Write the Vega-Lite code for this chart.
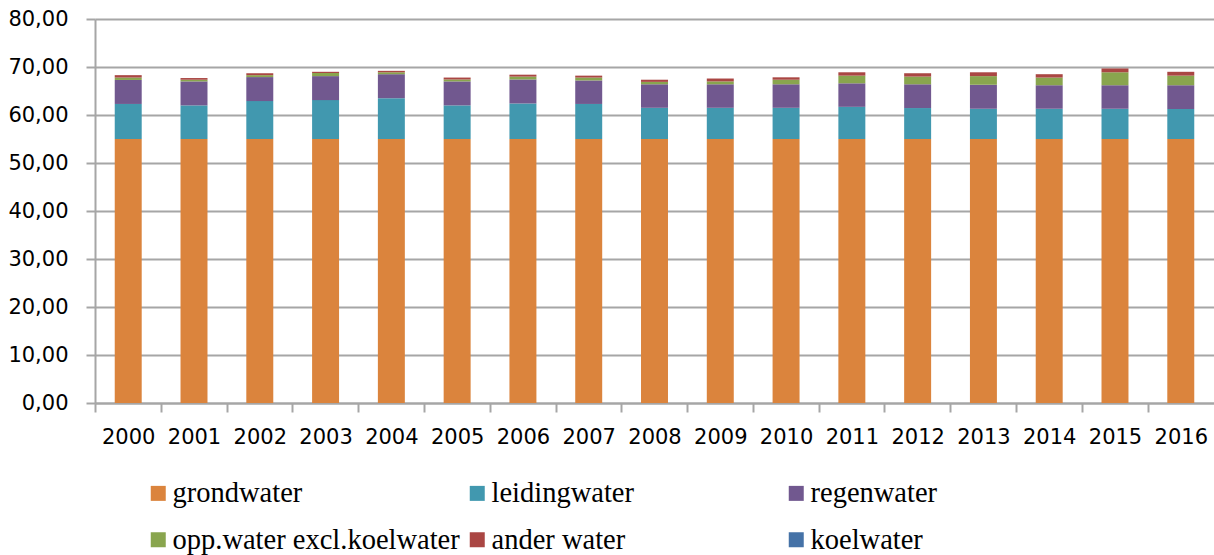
{
  "$schema": "https://vega.github.io/schema/vega-lite/v6.json",
  "width": 1119,
  "height": 384,
  "autosize": "none",
  "padding": {"left": 95, "top": 19, "right": 0, "bottom": 152},
  "background": "white",
  "config": {"view": {"stroke": null}},
  "datasets": {
    "raw": [
      {"jaar": "2000", "grondwater": 55, "leidingwater": 7.3, "regenwater": 5.0, "opp": 0.5, "ander": 0.5, "koel": 0},
      {"jaar": "2001", "grondwater": 55, "leidingwater": 7.0, "regenwater": 5.0, "opp": 0.35, "ander": 0.35, "koel": 0},
      {"jaar": "2002", "grondwater": 55, "leidingwater": 7.9, "regenwater": 5.0, "opp": 0.4, "ander": 0.4, "koel": 0},
      {"jaar": "2003", "grondwater": 55, "leidingwater": 8.1, "regenwater": 5.0, "opp": 0.65, "ander": 0.25, "koel": 0},
      {"jaar": "2004", "grondwater": 55, "leidingwater": 8.5, "regenwater": 5.0, "opp": 0.4, "ander": 0.3, "koel": 0},
      {"jaar": "2005", "grondwater": 55, "leidingwater": 7.0, "regenwater": 5.0, "opp": 0.4, "ander": 0.4, "koel": 0},
      {"jaar": "2006", "grondwater": 55, "leidingwater": 7.4, "regenwater": 5.0, "opp": 0.6, "ander": 0.4, "koel": 0},
      {"jaar": "2007", "grondwater": 55, "leidingwater": 7.3, "regenwater": 4.9, "opp": 0.6, "ander": 0.4, "koel": 0},
      {"jaar": "2008", "grondwater": 55, "leidingwater": 6.5, "regenwater": 4.9, "opp": 0.5, "ander": 0.45, "koel": 0},
      {"jaar": "2009", "grondwater": 55, "leidingwater": 6.5, "regenwater": 4.9, "opp": 0.6, "ander": 0.6, "koel": 0},
      {"jaar": "2010", "grondwater": 55, "leidingwater": 6.5, "regenwater": 4.9, "opp": 0.95, "ander": 0.5, "koel": 0},
      {"jaar": "2011", "grondwater": 55, "leidingwater": 6.7, "regenwater": 4.9, "opp": 1.6, "ander": 0.7, "koel": 0},
      {"jaar": "2012", "grondwater": 55, "leidingwater": 6.45, "regenwater": 4.95, "opp": 1.6, "ander": 0.7, "koel": 0},
      {"jaar": "2013", "grondwater": 55, "leidingwater": 6.3, "regenwater": 5.0, "opp": 1.8, "ander": 0.8, "koel": 0},
      {"jaar": "2014", "grondwater": 55, "leidingwater": 6.3, "regenwater": 4.9, "opp": 1.6, "ander": 0.7, "koel": 0},
      {"jaar": "2015", "grondwater": 55, "leidingwater": 6.3, "regenwater": 4.9, "opp": 2.7, "ander": 0.8, "koel": 0},
      {"jaar": "2016", "grondwater": 55, "leidingwater": 6.25, "regenwater": 4.95, "opp": 2.0, "ander": 0.8, "koel": 0}
    ],
    "types": [
      {"key": "grondwater", "bron": "grondwater", "volgorde": 1},
      {"key": "leidingwater", "bron": "leidingwater", "volgorde": 2},
      {"key": "regenwater", "bron": "regenwater", "volgorde": 3},
      {"key": "opp", "bron": "opp.water excl.koelwater", "volgorde": 4},
      {"key": "ander", "bron": "ander water", "volgorde": 5},
      {"key": "koel", "bron": "koelwater", "volgorde": 6}
    ]
  },
  "data": {"name": "raw"},
  "transform": [
    {"fold": ["grondwater", "leidingwater", "regenwater", "opp", "ander", "koel"], "as": ["key", "waarde"]},
    {"lookup": "key", "from": {"data": {"name": "types"}, "key": "key", "fields": ["bron", "volgorde"]}}
  ],
  "mark": {"type": "bar"},
  "encoding": {
    "x": {
      "field": "jaar", "type": "ordinal",
      "scale": {"paddingInner": 0.59, "paddingOuter": 0.3},
      "axis": {
        "title": null, "labelAngle": 0,
        "tickOffset": -33.2, "labelOffset": 33.2,
        "labelFont": "DejaVu Sans", "labelFontSize": 21, "labelColor": "#000",
        "labelPadding": 14, "tickSize": 9, "tickColor": "#a6a6a6", "tickWidth": 2,
        "domainColor": "#a6a6a6", "domainWidth": 2, "grid": false
      }
    },
    "y": {
      "field": "waarde", "type": "quantitative", "stack": "zero",
      "scale": {"domain": [0, 80], "nice": false},
      "axis": {
        "title": null, "values": [0, 10, 20, 30, 40, 50, 60, 70, 80],
        "labelExpr": "replace(format(datum.value, '.2f'), '.', ',')",
        "labelFont": "DejaVu Sans", "labelFontSize": 21, "labelColor": "#000",
        "labelPadding": 18, "tickSize": 9, "tickColor": "#a6a6a6", "tickWidth": 2,
        "domainColor": "#a6a6a6", "domainWidth": 2,
        "grid": true, "gridColor": "#a6a6a6", "gridWidth": 2
      }
    },
    "color": {
      "field": "bron", "type": "nominal",
      "scale": {
        "domain": ["grondwater", "leidingwater", "regenwater", "opp.water excl.koelwater", "ander water", "koelwater"],
        "range": ["#DB843D", "#4198AF", "#71588F", "#89A54E", "#AA4643", "#4572A7"]
      },
      "legend": {
        "title": null, "orient": "none", "legendX": 49, "legendY": 460,
        "direction": "horizontal", "columns": 3, "gridAlign": "all",
        "symbolType": "square", "symbolSize": 225, "symbolStrokeWidth": 0,
        "labelFont": "Liberation Serif", "labelFontSize": 28.5, "labelColor": "#000",
        "labelOffset": 0, "columnPadding": 3, "rowPadding": 17.5, "labelLimit": 400
      }
    },
    "order": {"field": "volgorde", "type": "quantitative", "sort": "ascending"}
  }
}
